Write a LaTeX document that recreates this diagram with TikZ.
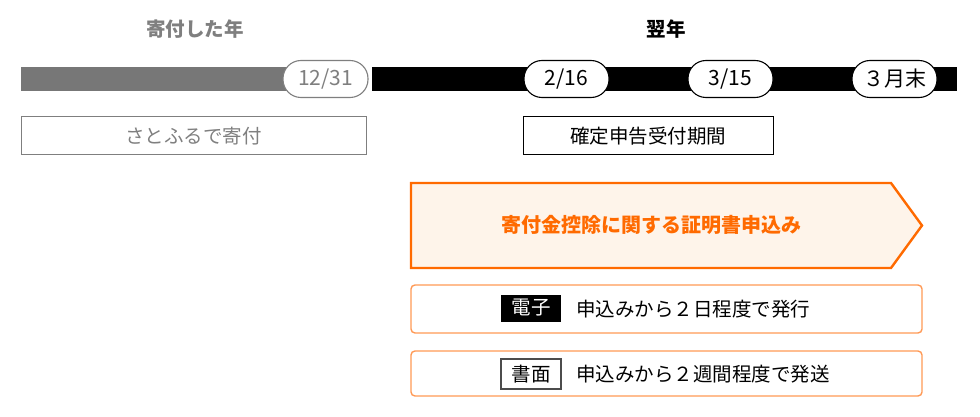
\documentclass[tikz,border=0pt]{standalone}
\usepackage{fontspec}
\setmainfont{Noto Sans CJK JP}
\definecolor{bargray}{HTML}{777777}
\definecolor{txtgray}{HTML}{7F7F7F}
\definecolor{orng}{HTML}{FF6A00}
\definecolor{orngfill}{HTML}{FEF4EA}
\definecolor{orngline}{HTML}{FF9955}
\begin{document}
\begin{tikzpicture}[x=1pt,y=-1pt,
  every node/.style={font=\fontsize{19.5}{22}\selectfont, inner sep=0pt},
  pill/.style={draw=black, fill=white, line width=1.1pt, rounded corners=18pt, minimum width=85pt, minimum height=37pt, font=\fontsize{21}{24}\selectfont},
  plainbox/.style={draw=black, line width=1pt, minimum height=38pt},
  optbox/.style={draw=orngline, line width=1.4pt, rounded corners=4pt, minimum width=511pt},
  title/.style={font=\fontsize{19.5}{22}\selectfont\bfseries}
]
\useasboundingbox (0,0) rectangle (980,417);
% titles
\node[title, text=txtgray] (t1) at (195,29) {寄付した年};
\node[title] (t2) at (666,29) {翌年};
% bars
\fill[bargray] (21,67) rectangle (326,91);
\fill[black] (372,67) rectangle (957,91);
% pills
\node[pill, draw=txtgray, text=txtgray] (p1) at (325.5,79) {12/31};
\node[pill] (p2) at (566.5,79) {2/16};
\node[pill] (p3) at (730.5,79) {3/15};
\node[pill] (p4) at (894.5,79) {３月末};
% boxes
\node[plainbox, draw=txtgray, text=txtgray, minimum width=345pt] (b1) at (193.5,136) {さとふるで寄付};
\node[plainbox, minimum width=250pt] (b2) at (648,136) {確定申告受付期間};
% arrow shape
\draw[draw=orng, fill=orngfill, line width=2.4pt, line join=miter]
  (411,183) -- (891,183) -- (922,225.5) -- (891,268) -- (411,268) -- cycle;
\node[title, text=orng, font=\fontsize{20}{22}\selectfont\bfseries] (at) at (651,225) {寄付金控除に関する証明書申込み};
% option boxes
\node[optbox, minimum height=48pt] (o1) at (666.5,309) {};
\node[optbox, minimum height=45pt] (o2) at (666.5,373.5) {};
\node[fill=black, text=white, minimum width=60pt, minimum height=27pt] (e1) at (531,308) {電子};
\node[anchor=west] (e2) at (576,309) {申込みから２日程度で発行};
\node[draw=black!70, line width=1.2pt, fill=white, minimum width=60pt, minimum height=30pt] (s1) at (531,374) {書面};
\node[anchor=west] (s2) at (576,374) {申込みから２週間程度で発送};
\end{tikzpicture}
\end{document}
